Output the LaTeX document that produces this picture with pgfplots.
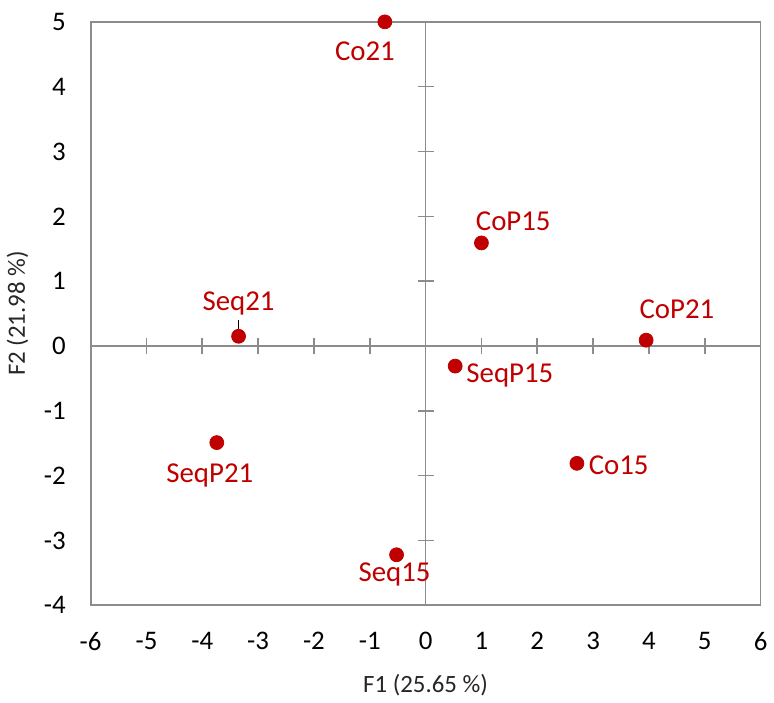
\documentclass[border=0pt]{standalone}
\usepackage{pgfplots}
\pgfplotsset{compat=1.18}
\usepackage{fontspec}
\setmainfont{Carlito}
\definecolor{ptred}{HTML}{C00000}
\definecolor{axgray}{HTML}{8C8C8C}
\begin{document}
\begin{tikzpicture}
\begin{axis}[
  scale only axis,
  width=337pt, height=293.5pt,
  xmin=-6, xmax=6, ymin=-4, ymax=5,
  xtick={-6,...,6}, ytick={-4,...,5},
  major tick length=0pt,
  axis line style={axgray, line width=0.9pt},
  tick label style={font=\fontsize{13.5}{16}\selectfont, black},
  /pgf/number format/assume math mode=true,
  xticklabel style={yshift=-10pt},
  yticklabel style={xshift=-9pt},
  xlabel={F1 (25.65 \%)}, ylabel={F2 (21.98 \%)},
  label style={font=\fontsize{12.5}{15}\selectfont, black!85},
  xlabel style={yshift=-5pt},
  ylabel style={yshift=1pt},
  clip=false,
]
% zero lines with crossing ticks
\draw[axgray, line width=0.8pt] (axis cs:-6,0) -- (axis cs:6,0);
\draw[axgray, line width=0.8pt] (axis cs:0,-4) -- (axis cs:0,5);
\pgfplotsinvokeforeach{-5,-4,-3,-2,-1,1,2,3,4,5}{
  \draw[axgray, line width=0.8pt] ([yshift=-4pt]axis cs:#1,0) -- ([yshift=4pt]axis cs:#1,0);
}
\pgfplotsinvokeforeach{-3,-2,-1,0,1,2,3,4}{
  \draw[axgray, line width=0.8pt] ([xshift=-4pt]axis cs:0,#1) -- ([xshift=4pt]axis cs:0,#1);
}
\path ([yshift=11pt]rel axis cs:0,1);
\draw[black, line width=0.5pt] ([yshift=3pt]axis cs:-3.35,0.15) -- ([yshift=8pt]axis cs:-3.35,0.15);
\addplot[only marks, mark=*, mark size=3.5pt, color=ptred] coordinates {
  (-0.73,5.00) (1.00,1.59) (3.95,0.09) (-3.35,0.15)
  (0.53,-0.31) (-3.74,-1.49) (2.71,-1.81) (-0.52,-3.22)
};
\begin{scope}[every node/.style={font=\fontsize{14.5}{17}\selectfont, text=ptred, inner sep=0pt}]
\node at ([xshift=-10pt, yshift=-15pt]axis cs:-0.73,5.00) {Co21};
\node at ([xshift=16pt, yshift=11pt]axis cs:1.00,1.59) {CoP15};
\node at ([xshift=15.5pt, yshift=15.5pt]axis cs:3.95,0.09) {CoP21};
\node at ([xshift=0pt, yshift=16.5pt]axis cs:-3.35,0.15) {Seq21};
\node at ([xshift=27.5pt, yshift=-4.5pt]axis cs:0.53,-0.31) {SeqP15};
\node at ([xshift=-3.5pt, yshift=-16.5pt]axis cs:-3.74,-1.49) {SeqP21};
\node at ([xshift=21pt, yshift=-1pt]axis cs:2.71,-1.81) {Co15};
\node at ([xshift=-1pt, yshift=-10pt]axis cs:-0.52,-3.22) {Seq15};
\end{scope}
\end{axis}
\end{tikzpicture}
\end{document}
